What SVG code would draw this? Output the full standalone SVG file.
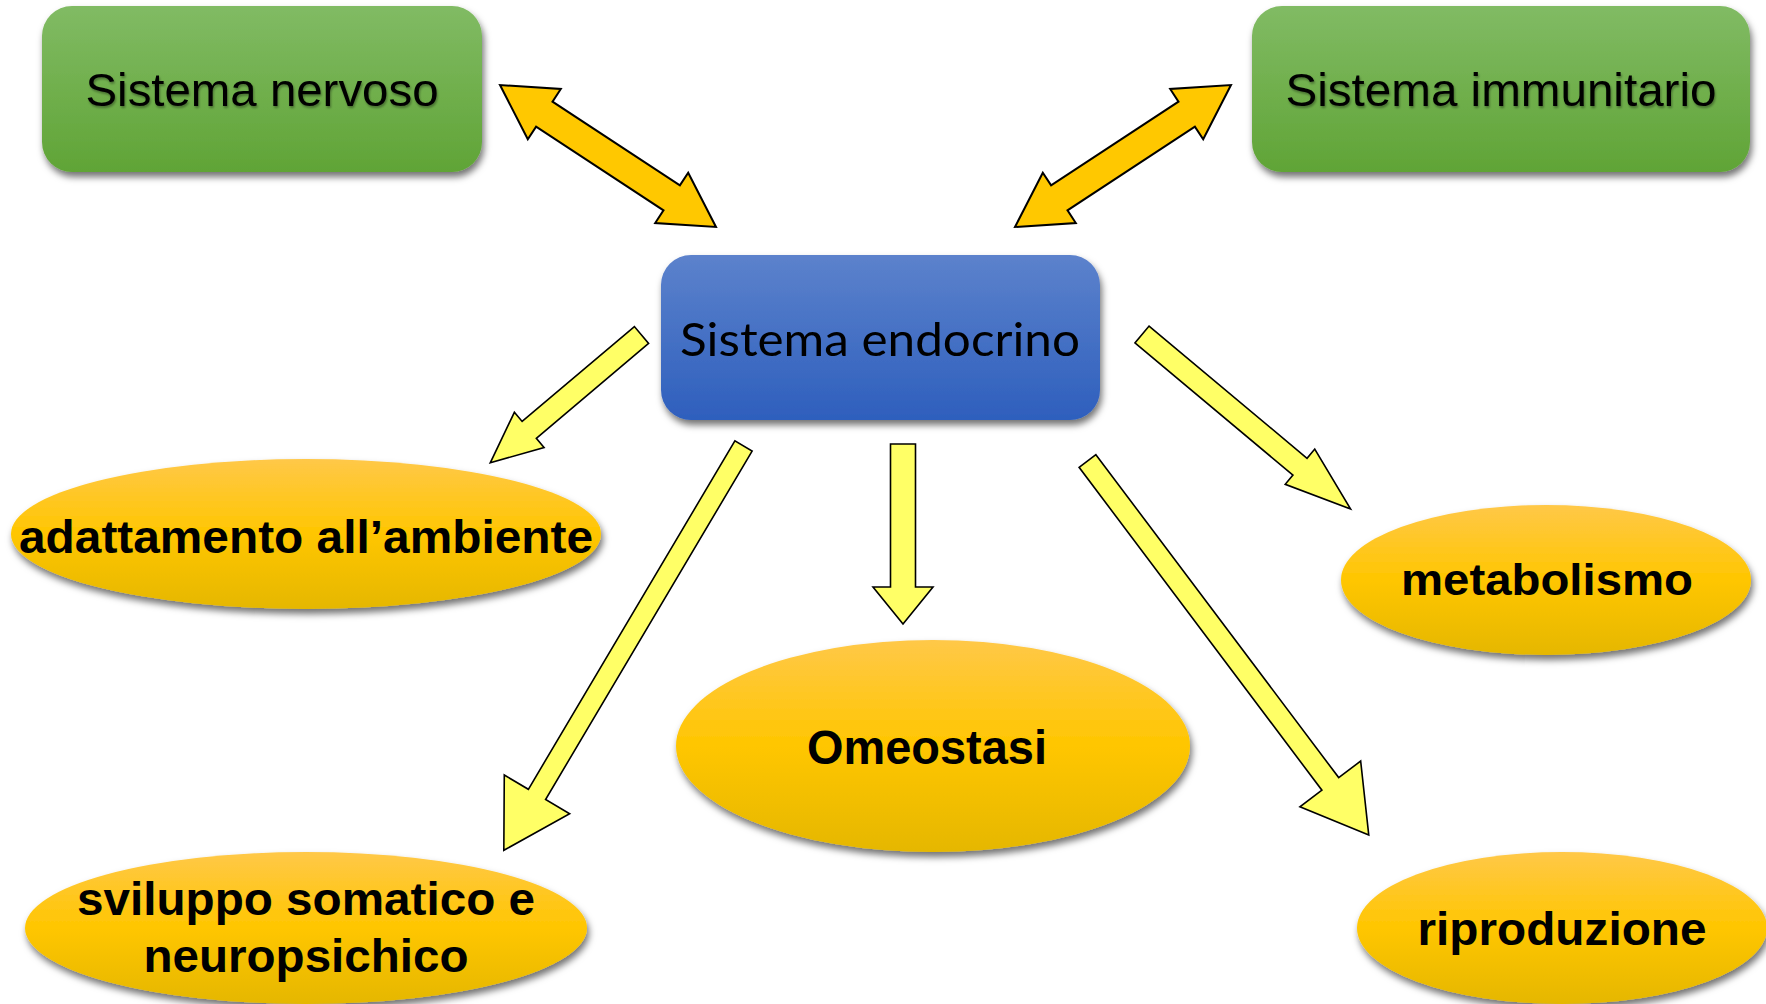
<svg xmlns="http://www.w3.org/2000/svg" width="1766" height="1004" viewBox="0 0 1766 1004">
  <defs>
    <linearGradient id="gGreen" x1="0" y1="0" x2="0" y2="1">
      <stop offset="0" stop-color="#81bb64"/>
      <stop offset="1" stop-color="#60a436"/>
    </linearGradient>
    <linearGradient id="gBlue" x1="0" y1="0" x2="0" y2="1">
      <stop offset="0" stop-color="#5c82cc"/>
      <stop offset="1" stop-color="#2e5fbd"/>
    </linearGradient>
    <linearGradient id="gGold" x1="0" y1="0" x2="0" y2="1">
      <stop offset="0" stop-color="#ffc848"/>
      <stop offset="0.5" stop-color="#ffc600"/>
      <stop offset="1" stop-color="#e5b700"/>
    </linearGradient>
    <filter id="shadow" x="-10%" y="-10%" width="120%" height="130%">
      <feDropShadow dx="2" dy="5" stdDeviation="3.5" flood-color="#000" flood-opacity="0.55"/>
    </filter>
    <filter id="tshadow" x="-5%" y="-20%" width="110%" height="140%">
      <feDropShadow dx="1" dy="2" stdDeviation="1.2" flood-color="#000" flood-opacity="0.35"/>
    </filter>
  </defs>
  <style>
    .box-green { fill: url(#gGreen); filter: url(#shadow); }
    .box-blue { fill: url(#gBlue); filter: url(#shadow); }
    .oval { fill: url(#gGold); filter: url(#shadow); }
    .t-sys { font-family: "Liberation Sans", Arial, sans-serif; font-size: 47px; fill: #000; text-anchor: middle; filter: url(#tshadow); }
    .t-endo { font-family: Lato, "Open Sans", sans-serif; font-size: 47px; fill: #000; text-anchor: middle; }
    .t-oval { font-family: "Liberation Sans", Arial, sans-serif; font-weight: bold; fill: #000; text-anchor: middle; }
    .dbl { fill: #ffc800; stroke: #000; stroke-width: 2; stroke-linejoin: miter; }
    .sgl { fill: #ffff66; stroke: #000; stroke-width: 1.6; stroke-linejoin: miter; }
  </style>

  <rect width="1766" height="1004" fill="#ffffff"/>

  <g id="connectors">
    <polygon id="arrow-nervoso" class="dbl" points="500,85 527.8,139.2 536.1,126.6 663.5,210.4 655.2,223 716,227 688.2,172.8 679.9,185.4 552.5,101.6 560.8,89"/>
    <polygon id="arrow-immunitario" class="dbl" points="1231,85 1203.2,139.2 1194.9,126.6 1067.5,210.4 1075.8,223 1015,227 1042.8,172.8 1051.1,185.4 1178.5,101.6 1170.2,89"/>
    <polygon id="arrow-adattamento" class="sgl" transform="translate(641.5,335) rotate(139.8)" points="0,-11 147,-11 147,-23 198,0 147,23 147,11 0,11"/>
    <polygon id="arrow-sviluppo" class="sgl" transform="translate(743.5,446) rotate(120.66)" points="0,-10 405,-10 405,-38 470,0 405,38 405,10 0,10"/>
    <polygon id="arrow-omeostasi" class="sgl" transform="translate(903,444) rotate(90)" points="0,-12.5 143,-12.5 143,-30 180,0 143,30 143,12.5 0,12.5"/>
    <polygon id="arrow-riproduzione" class="sgl" transform="translate(1087.5,461) rotate(53.06)" points="0,-10.5 404,-10.5 404,-38 468,0 404,38 404,10.5 0,10.5"/>
    <polygon id="arrow-metabolismo" class="sgl" transform="translate(1142,334.5) rotate(39.92)" points="0,-11 206,-11 206,-23 272,0 206,23 206,11 0,11"/>
  </g>

  <g id="node-nervoso">
    <rect class="box-green" x="42" y="6" width="440" height="166" rx="30" ry="30"/>
    <text class="t-sys" x="262" y="106" textLength="353" lengthAdjust="spacingAndGlyphs">Sistema nervoso</text>
  </g>

  <g id="node-immunitario">
    <rect class="box-green" x="1252" y="6" width="498" height="166" rx="30" ry="30"/>
    <text class="t-sys" x="1501" y="106" textLength="431" lengthAdjust="spacingAndGlyphs">Sistema immunitario</text>
  </g>

  <g id="node-endocrino">
    <rect class="box-blue" x="661" y="255" width="439" height="165" rx="30" ry="30"/>
    <text class="t-endo" x="880" y="356" textLength="400" lengthAdjust="spacingAndGlyphs">Sistema endocrino</text>
  </g>

  <g id="node-adattamento">
    <ellipse class="oval" cx="306" cy="534" rx="295" ry="75"/>
    <text class="t-oval" x="306" y="553" font-size="47" textLength="574" lengthAdjust="spacingAndGlyphs">adattamento all’ambiente</text>
  </g>

  <g id="node-metabolismo">
    <ellipse class="oval" cx="1546" cy="580" rx="205" ry="75"/>
    <text class="t-oval" x="1547" y="595" font-size="44" textLength="292" lengthAdjust="spacingAndGlyphs">metabolismo</text>
  </g>

  <g id="node-omeostasi">
    <ellipse class="oval" cx="933" cy="746" rx="257" ry="106"/>
    <text class="t-oval" x="927" y="764" font-size="48" textLength="240" lengthAdjust="spacingAndGlyphs">Omeostasi</text>
  </g>

  <g id="node-sviluppo">
    <ellipse class="oval" cx="306" cy="928" rx="281" ry="76"/>
    <text class="t-oval" x="306" y="915" font-size="47" textLength="458" lengthAdjust="spacingAndGlyphs">sviluppo somatico e</text>
    <text class="t-oval" x="306" y="972" font-size="47" textLength="325" lengthAdjust="spacingAndGlyphs">neuropsichico</text>
  </g>

  <g id="node-riproduzione">
    <ellipse class="oval" cx="1562" cy="928" rx="205" ry="76"/>
    <text class="t-oval" x="1562" y="945" font-size="46" textLength="289" lengthAdjust="spacingAndGlyphs">riproduzione</text>
  </g>
</svg>
